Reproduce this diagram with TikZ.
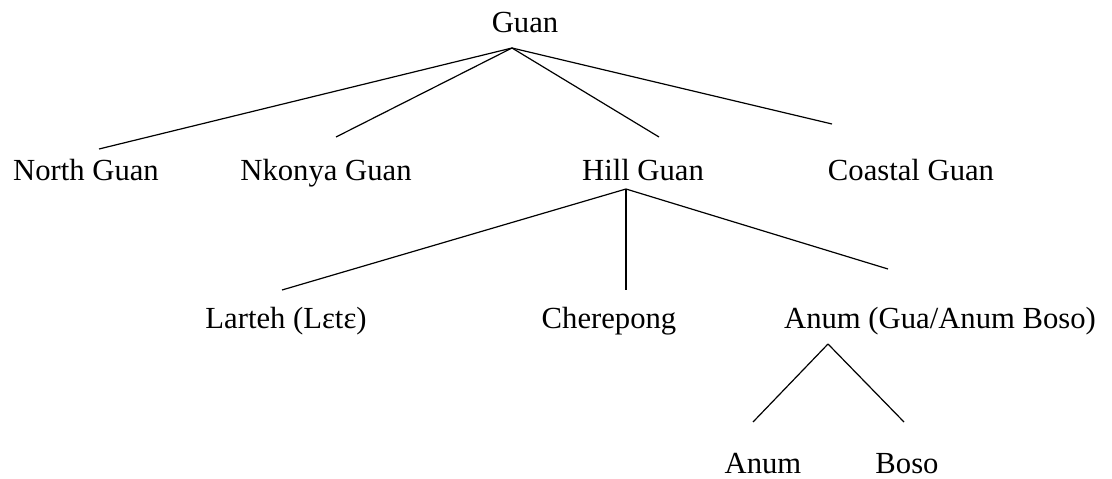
\documentclass[tikz,border=0pt]{standalone}
\usepackage{fontspec}
\setmainfont{Liberation Serif}
\tikzset{
  lang/.style={anchor=base, inner sep=0pt, font=\fontsize{23}{27}\selectfont},
  branch/.style={line width=0.9pt}
}

\begin{document}
\begin{tikzpicture}[x=0.75pt, y=-0.75pt]
        \useasboundingbox (0,0) rectangle (1112,478);

        \node[lang] (guan) at (525,33) {Guan};
        \node[lang] (north) at (86,180) {North Guan};
        \node[lang] (nkonya) at (326,180) {Nkonya Guan};
        \node[lang] (hill) at (643,180) {Hill Guan};
        \node[lang] (coastal) at (911,180) {Coastal Guan};
        \node[lang] (larteh) at (286,328) {Larteh (Lɛtɛ)};
        \node[lang] (cherepong) at (609,328) {Cherepong};
        \node[lang] (anumgua) at (940,328) {Anum (Gua/Anum Boso)};
        \node[lang] (anum) at (763,473) {Anum};
        \node[lang] (boso) at (907,473) {Boso};

        \coordinate (guan-b) at (512,48);
        \coordinate (north-t) at (99,149); \coordinate (nkonya-t) at (336,137);
        \coordinate (hill-t) at (659,137); \coordinate (coastal-t) at (832,124);
        \draw[branch] (guan-b) -- (north-t); \draw[branch] (guan-b) -- (nkonya-t);
        \draw[branch] (guan-b) -- (hill-t); \draw[branch] (guan-b) -- (coastal-t);

        \coordinate (hill-b) at (626,189);
        \coordinate (larteh-t) at (282,290); \coordinate (cherepong-t) at (626,290);
        \coordinate (anumgua-t) at (888,269);
        \draw[branch] (hill-b) -- (larteh-t); \draw[branch] (hill-b) -- (cherepong-t);
        \draw[branch] (hill-b) -- (anumgua-t);

        \coordinate (anumgua-b) at (828,344);
        \coordinate (anum-t) at (753,422); \coordinate (boso-t) at (904,422);
        \draw[branch] (anumgua-b) -- (anum-t); \draw[branch] (anumgua-b) -- (boso-t);

    \end{tikzpicture}
\end{document}
